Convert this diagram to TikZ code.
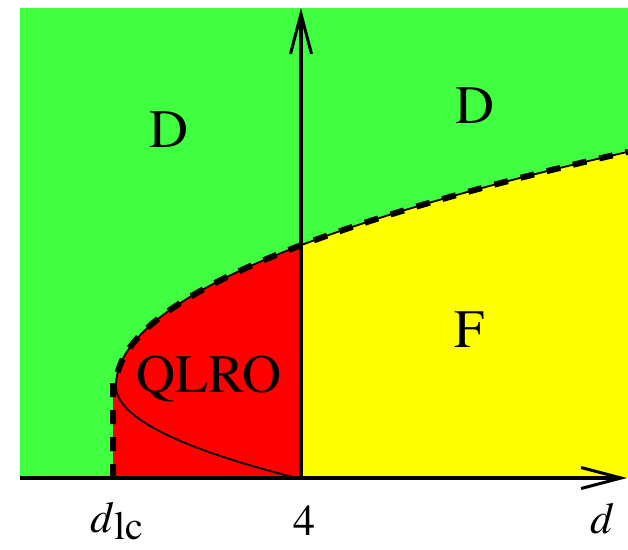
\documentclass[tikz,border=0pt]{standalone}
\usepackage{fontspec}
\setmainfont{texgyretermes}[Extension=.otf,UprightFont=*-regular,ItalicFont=*-italic,BoldFont=*-bold,BoldItalicFont=*-bolditalic]
\usetikzlibrary{arrows.meta}
\definecolor{phgreen}{RGB}{64,255,64}
\definecolor{phred}{RGB}{255,0,0}
\definecolor{phyellow}{RGB}{255,255,0}
\tikzset{
  axisline/.style={line width=3.5pt,-{Straight Barb[length=40pt,width=21pt,line width=3pt]}},
  thincurve/.style={line width=1.8pt},
  dashcurve/.style={line width=6pt,dash pattern=on 14pt off 13pt,line join=round},
  phaselabel/.style={font=\fontsize{54}{60}\selectfont,inner sep=0pt},
  axislabel/.style={font=\fontsize{44}{48}\selectfont,inner sep=0pt}
}
\begin{document}
\begin{tikzpicture}[x=1pt,y=-1pt]
\useasboundingbox (0,0) rectangle (628,549);
% background green
\fill[phgreen] (20,7.5) rectangle (628,478);
% red region (left of d=4)
\begin{scope}
  \clip (0,0) rectangle (301,478);
  \fill[phred] (113,478) -- (113,386) -- plot[domain=0:22.63,samples=80,variable=\t] ({116+\t*\t},{386-10.35*\t}) -- (628,478) -- cycle;
\end{scope}
% yellow region (right of d=4)
\begin{scope}
  \clip (301,0) rectangle (628,478);
  \fill[phyellow] (113,478) -- (113,386) -- plot[domain=0:22.63,samples=80,variable=\t] ({116+\t*\t},{386-10.35*\t}) -- (628,478) -- cycle;
\end{scope}
% thin solid curve (whole boundary)
\begin{scope}
  \clip (0,0) rectangle (628,478);
  \draw[thincurve] plot[domain=-13.56:22.63,samples=200,variable=\t] ({116+\t*\t},{386-(\t>0 ? 10.35 : 6.85)*\t});
\end{scope}
% dashed boundary
\draw[dashcurve] (113,478) -- (113,380) -- plot[domain=0.8:22.63,samples=80,variable=\t] ({116+\t*\t},{386-10.35*\t});
% axes
\coordinate (O) at (20,478);
\coordinate (xtip) at (627,478);
\coordinate (ybase) at (301,478);
\coordinate (ytip) at (301,8);
\draw[axisline] (O) -- (xtip);
\draw[axisline] (ybase) -- (ytip);
% labels
\node[phaselabel] (Dleft) at (169,130) {D};
\node[phaselabel] (Dright) at (475,106) {D};
\node[phaselabel] (F) at (470,330) {F};
\node[phaselabel] (QLRO) at (209,379) {QLRO};
\node[axislabel,anchor=base west] (dlc) at (90,532) {\itshape d\kern2pt\raisebox{-7pt}{\upshape\fontsize{40}{44}\selectfont lc}};
\node[axislabel,anchor=base] (four) at (304,535) {4};
\node[axislabel,anchor=base] (dlab) at (601,533) {\itshape d};
\end{tikzpicture}
\end{document}
